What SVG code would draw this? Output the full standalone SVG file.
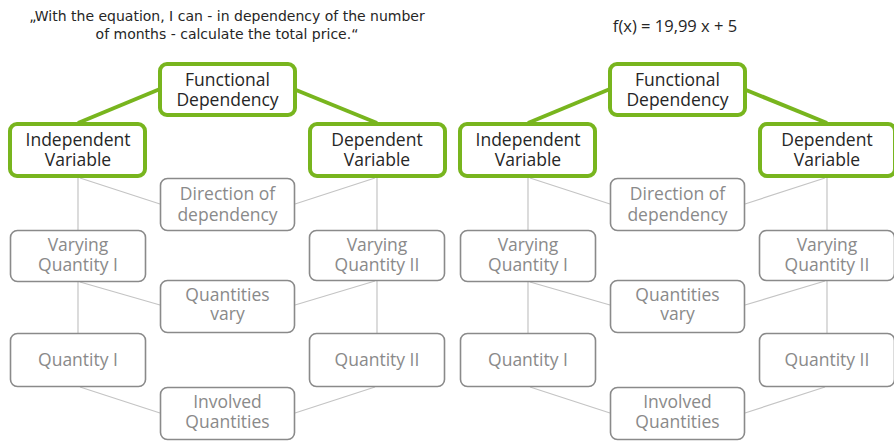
<svg xmlns="http://www.w3.org/2000/svg" width="894" height="441" viewBox="0 0 894 441">
<defs>
<style>
.bg{fill:#ffffff}
.gbox{fill:#ffffff;stroke:#78b51e;stroke-width:4}
.box{fill:#ffffff;stroke:#8a8a8a;stroke-width:1.6}
.gl{stroke:#78b51e;stroke-width:4;fill:none}
.cl{stroke:#c4c4c4;stroke-width:1.2;fill:none}
.t{font-family:"Open Sans","DejaVu Sans",sans-serif;font-size:17.5px;text-anchor:middle}
.dk{fill:#262626}
.gy{fill:#8a8a8a}
.q{font-family:"DejaVu Sans",sans-serif;font-size:14px;fill:#262626;text-anchor:middle}
.f{font-family:"Open Sans","DejaVu Sans",sans-serif;font-size:16.5px;fill:#262626;text-anchor:middle}
</style>
<g id="diagram">
<g id="connectors">
<line class="gl" x1="160" y1="89" x2="78" y2="123"/>
<line class="gl" x1="296" y1="90" x2="377" y2="123"/>
<line class="cl" x1="78" y1="178" x2="78" y2="230"/>
<line class="cl" x1="80" y1="178" x2="160" y2="204"/>
<line class="cl" x1="377" y1="178" x2="377" y2="230"/>
<line class="cl" x1="375" y1="178" x2="295" y2="204"/>
<line class="cl" x1="78" y1="282" x2="78" y2="333"/>
<line class="cl" x1="80" y1="282" x2="160" y2="305"/>
<line class="cl" x1="377" y1="281" x2="377" y2="333"/>
<line class="cl" x1="375" y1="281" x2="295" y2="305"/>
<line class="cl" x1="80" y1="387" x2="160" y2="413"/>
<line class="cl" x1="375" y1="387" x2="295" y2="413"/>
</g>
<g id="functional">
<rect class="gbox" x="160" y="64" width="135" height="51" rx="7"/>
<text class="t dk" x="227.5" y="86">Functional</text>
<text class="t dk" x="227.5" y="105.5">Dependency</text>
</g>
<g id="independent">
<rect class="gbox" x="10" y="124" width="135" height="52" rx="7"/>
<text class="t dk" x="78" y="146">Independent</text>
<text class="t dk" x="78" y="165.5">Variable</text>
</g>
<g id="dependent">
<rect class="gbox" x="310" y="124" width="135" height="52" rx="7"/>
<text class="t dk" x="377" y="146">Dependent</text>
<text class="t dk" x="377" y="165.5">Variable</text>
</g>
<g id="direction">
<rect class="box" x="160.5" y="178.5" width="134" height="52" rx="7"/>
<text class="t gy" x="227.5" y="200">Direction of</text>
<text class="t gy" x="227.5" y="220.5">dependency</text>
</g>
<g id="varying1">
<rect class="box" x="10.5" y="230.5" width="135" height="51" rx="7"/>
<text class="t gy" x="78" y="251">Varying</text>
<text class="t gy" x="78" y="271">Quantity I</text>
</g>
<g id="varying2">
<rect class="box" x="309.5" y="230.5" width="135" height="50" rx="7"/>
<text class="t gy" x="377" y="250.5">Varying</text>
<text class="t gy" x="377" y="270.5">Quantity II</text>
</g>
<g id="vary">
<rect class="box" x="160.5" y="280.5" width="134" height="52" rx="7"/>
<text class="t gy" x="227.5" y="301">Quantities</text>
<text class="t gy" x="227.5" y="320">vary</text>
</g>
<g id="quantity1">
<rect class="box" x="10.5" y="333.5" width="135" height="53" rx="7"/>
<text class="t gy" x="78" y="365.5">Quantity I</text>
</g>
<g id="quantity2">
<rect class="box" x="309.5" y="333.5" width="135" height="53" rx="7"/>
<text class="t gy" x="377" y="365.5">Quantity II</text>
</g>
<g id="involved">
<rect class="box" x="160.5" y="387.5" width="134" height="52" rx="7"/>
<text class="t gy" x="227.5" y="408">Involved</text>
<text class="t gy" x="227.5" y="428">Quantities</text>
</g>
</g>
</defs>
<rect class="bg" x="0" y="0" width="894" height="441"/>
<g id="quote">
<text class="q" x="227" y="21">„With the equation, I can - in dependency of the number</text>
<text class="q" x="227" y="38.5">of months - calculate the total price.“</text>
</g>
<g id="formula">
<text class="f" x="675" y="32">f(x) = 19,99 x + 5</text>
</g>
<use href="#diagram" x="0" y="0"/>
<use href="#diagram" x="450" y="0"/>
</svg>
